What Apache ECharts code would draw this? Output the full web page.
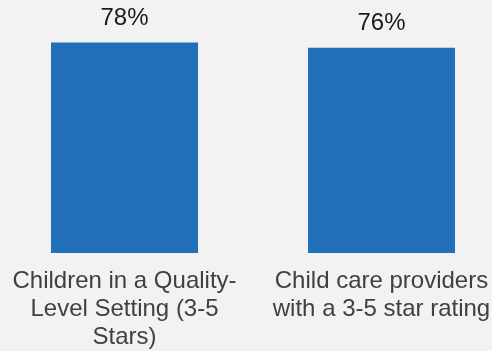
<!DOCTYPE html>
<html>
<head>
<meta charset="utf-8">
<script src="https://cdn.jsdelivr.net/npm/echarts@6/dist/echarts.min.js"></script>
<style>
    html, body { margin: 0; padding: 0; background: #f2f2f2; overflow: hidden; }
    #bar { position: absolute; left: -4px; top: 0; width: 514px; height: 351px; }
</style>
</head>
<body>
<div id="bar"></div>
<script>
var categories = [
    'Children in a Quality-\nLevel Setting (3-5\nStars)',
    'Child care providers\nwith a 3-5 star rating'
]
var percentValues = [78, 76]

window.onload = function() {
    // chart box is a bit wider than the window so the bars sit where the original has them
    var qualityBar = echarts.init(document.getElementById('bar'));

    var barOption = {
        backgroundColor: '#f2f2f2',
        grid: {
            left: 0,
            right: 0,
            top: 37,
            bottom: 96
        },
        xAxis: {
            type: 'category',
            data: categories,
            axisLine: { show: false },
            axisTick: { show: false },
            axisLabel: {
                interval: 0,
                margin: 14,
                color: '#404040',
                fontFamily: 'Liberation Sans, Arial, sans-serif',
                fontSize: 24,
                lineHeight: 28,
                align: 'center'
            }
        },
        yAxis: {
            type: 'value',
            min: 0,
            max: 80,
            show: false
        },
        series: [
            {
                name: 'Percent',
                type: 'bar',
                data: percentValues,
                barWidth: 147,
                itemStyle: { color: '#2270b9' },
                label: {
                    show: true,
                    position: 'top',
                    distance: 12,
                    color: '#1a1a1a',
                    fontFamily: 'Liberation Sans, Arial, sans-serif',
                    fontSize: 24,
                    formatter: function (params) {
                        return params.value + '%';
                    }
                }
            }
        ]
    };

    qualityBar.setOption(barOption);
}
</script>
</body>
</html>
